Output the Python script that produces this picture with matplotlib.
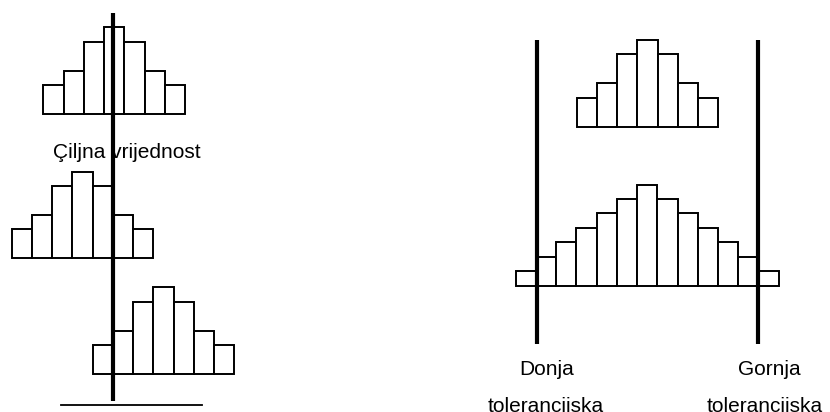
import numpy as np
import matplotlib.pyplot as plt

plt.rcParams["font.family"] = ["Liberation Sans", "DejaVu Sans"]

# Bar heights (counts) of each histogram
target_top = [2, 3, 5, 6, 5, 3, 2]
target_mid = [2, 3, 5, 6, 5, 3, 2]
target_bot = [2, 3, 5, 6, 5, 3, 2]
tol_narrow = [2, 3, 5, 6, 5, 3, 2]
tol_wide = [1, 2, 3, 4, 5, 6, 7, 6, 5, 4, 3, 2, 1]

target_label = "Çiljna vrijednost"
lower_label = ["Donja", "tolerancijska"]
upper_label = ["Gornja", "tolerancijska"]

# Layout: figure pixels, one bar = 1 x-unit, one count = 1 y-unit
W, H = 830, 412
BW, BH = 20.25, 14.45


def fx(px):
    return px / BW


def fy(py):
    return (H - py) / BH


fig = plt.figure(figsize=(W / 100, H / 100), dpi=100)
ax = fig.add_axes([0, 0, 1, 1])
ax.set_xlim(0, W / BW)
ax.set_ylim(0, H / BH)
ax.axis("off")


def hist(counts, left_px, base_px):
    x = fx(left_px) + np.arange(len(counts))
    ax.bar(x, counts, width=1, bottom=fy(base_px), align="edge",
           facecolor="white", edgecolor="black", linewidth=1.4, zorder=2)


# Left: target value
hist(target_top, 43.3, 114)
hist(target_mid, 11.7, 258.3)
hist(target_bot, 92.7, 374)
ax.plot([fx(113.3)] * 2, [fy(13), fy(400.5)], color="black", lw=3, zorder=3,
        solid_capstyle="butt")
ax.plot([fx(60.5), fx(202)], [fy(404.5)] * 2, color="black", lw=1.3, zorder=3)
ax.text(fx(126.7), fy(158.3), target_label, fontsize=15, ha="center",
        va="baseline", zorder=4)

# Right: tolerance limits
hist(tol_narrow, 576.7, 126.7)
hist(tol_wide, 515.7, 285.7)
for xl in (536.7, 758.3):
    ax.plot([fx(xl)] * 2, [fy(40), fy(344)], color="black", lw=3, zorder=3,
            solid_capstyle="butt")

ax.text(fx(547), fy(375), lower_label[0], fontsize=15, ha="center", va="baseline")
ax.text(fx(545.5), fy(411.5), lower_label[1], fontsize=15, ha="center", va="baseline")
ax.text(fx(769), fy(375), upper_label[0], fontsize=15, ha="center", va="baseline")
ax.text(fx(765), fy(411.5), upper_label[1], fontsize=15, ha="center", va="baseline")

fig.savefig("out.png", dpi=100)
plt.close(fig)
